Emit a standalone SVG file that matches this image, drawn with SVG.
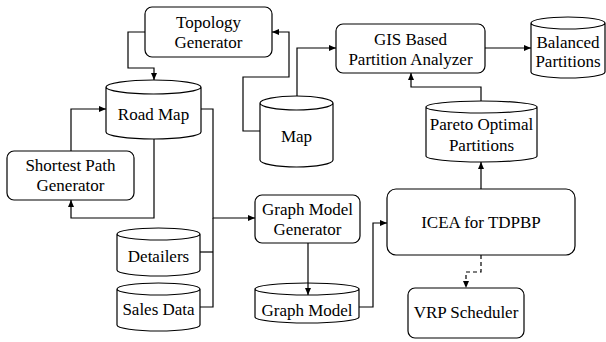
<svg xmlns="http://www.w3.org/2000/svg" width="606" height="342" viewBox="0 0 606 342">
<defs>
<marker id="ah" markerUnits="userSpaceOnUse" markerWidth="7" markerHeight="6" refX="7" refY="3" orient="auto">
<path d="M0,0 L7,3 L0,6 z" fill="#000"/>
</marker>
<style>
.box{fill:#fff;stroke:#000;stroke-width:1.2}
.cyl{fill:#fff;stroke:#000;stroke-width:1.2}
.t{font-family:"Liberation Serif","Times New Roman",serif;font-size:17px;fill:#000;text-anchor:middle}
.c{fill:none;stroke:#000;stroke-width:1.2;marker-end:url(#ah)}
.n{fill:none;stroke:#000;stroke-width:1.2}
.d{fill:none;stroke:#000;stroke-width:1.2;stroke-dasharray:4,3;marker-end:url(#ah)}
</style>
</defs>
<rect width="606" height="342" fill="#fff"/>
<g id="topology">
<rect class="box" x="145" y="7" width="127" height="50" rx="7"/>
<text class="t" x="208.5" y="28">Topology</text>
<text class="t" x="208.5" y="48">Generator</text>
</g>
<g id="roadmap">
<path class="cyl" d="M106,87 A47.5,7 0 0 1 201,87 A47.5,7 0 0 1 106,87 V132 A47.5,7 0 0 0 201,132 V87"/>
<text class="t" x="153.5" y="120">Road Map</text>
</g>
<g id="map">
<path class="cyl" d="M260,103 A36.5,7 0 0 1 333,103 A36.5,7 0 0 1 260,103 V160 A36.5,7 0 0 0 333,160 V103"/>
<text class="t" x="296.5" y="142">Map</text>
</g>
<g id="gis">
<rect class="box" x="336" y="24" width="149" height="49" rx="7"/>
<text class="t" x="410.5" y="44.5">GIS Based</text>
<text class="t" x="410.5" y="64.5">Partition Analyzer</text>
</g>
<g id="balanced">
<path class="cyl" d="M531,23 A37,6 0 0 1 605,23 A37,6 0 0 1 531,23 V72 A37,6 0 0 0 605,72 V23"/>
<text class="t" x="568" y="48">Balanced</text>
<text class="t" x="568" y="67">Partitions</text>
</g>
<g id="pareto">
<path class="cyl" d="M426,107 A55.5,6 0 0 1 537,107 A55.5,6 0 0 1 426,107 V156 A55.5,6 0 0 0 537,156 V107"/>
<text class="t" x="481.5" y="130">Pareto Optimal</text>
<text class="t" x="481.5" y="151">Partitions</text>
</g>
<g id="shortest">
<rect class="box" x="7" y="151" width="127" height="49" rx="7"/>
<text class="t" x="70.5" y="170.5">Shortest Path</text>
<text class="t" x="70.5" y="191">Generator</text>
</g>
<g id="detailers">
<path class="cyl" d="M117,234 A41.5,6 0 0 1 200,234 A41.5,6 0 0 1 117,234 V270 A41.5,6 0 0 0 200,270 V234"/>
<text class="t" x="158.5" y="262">Detailers</text>
</g>
<g id="sales">
<path class="cyl" d="M117,289 A41.5,6 0 0 1 200,289 A41.5,6 0 0 1 117,289 V325 A41.5,6 0 0 0 200,325 V289"/>
<text class="t" x="158.5" y="315">Sales Data</text>
</g>
<g id="gmg">
<rect class="box" x="255" y="195" width="105" height="48" rx="7"/>
<text class="t" x="307.5" y="215">Graph Model</text>
<text class="t" x="307.5" y="235">Generator</text>
</g>
<g id="graphmodel">
<path class="cyl" d="M255,289 A52,6 0 0 1 359,289 A52,6 0 0 1 255,289 V317 A52,6 0 0 0 359,317 V289"/>
<text class="t" x="307" y="316">Graph Model</text>
</g>
<g id="icea">
<rect class="box" x="387" y="189" width="188" height="66" rx="9"/>
<text class="t" x="481" y="228">ICEA for TDPBP</text>
</g>
<g id="vrp">
<rect class="box" x="408" y="288" width="116" height="50" rx="7"/>
<text class="t" x="466" y="318">VRP Scheduler</text>
</g>
<g id="connectors">
<path class="c" d="M145,32 H128 V68 H154 V80"/>
<path class="c" d="M260,131 H243 V77 H289 V32 H272"/>
<path class="c" d="M297,96 V48 H336"/>
<path class="c" d="M485,48 H531"/>
<path class="c" d="M481,101 V87 H411 V73"/>
<path class="c" d="M481,189 V162"/>
<path class="c" d="M71,151 V109 H106"/>
<path class="c" d="M154,139 V218 H71 V200"/>
<path class="c" d="M201,109 H213 V218 H255"/>
<path class="n" d="M200,252 H213"/>
<path class="n" d="M200,307 H213 V218"/>
<path class="c" d="M308,243 V295"/>
<path class="c" d="M359,307 H373 V223 H387"/>
<path class="d" d="M481,255 V272 H466 V288"/>
</g>
</svg>
